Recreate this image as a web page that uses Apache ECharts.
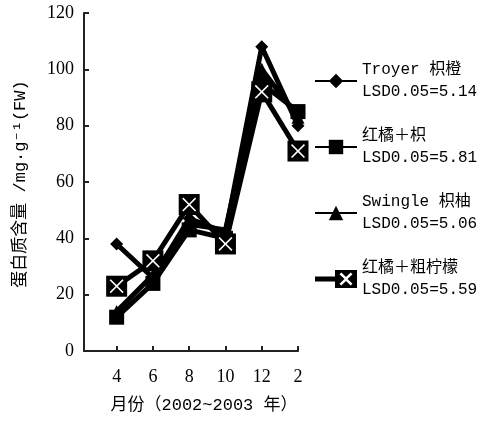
<!DOCTYPE html>
<html>
<head>
<meta charset="utf-8">
<script src="https://cdn.jsdelivr.net/npm/echarts@6/dist/echarts.min.js"></script>
<style>
  html, body { margin: 0; padding: 0; background: #fff; }
  #chart { width: 498px; height: 423px; }
</style>
</head>
<body>
<div id="chart"></div>
<script>
// Months sampled (April 2002 to February 2003)
const months = ['4', '6', '8', '10', '12', '2'];
const yTicks = [0, 20, 40, 60, 80, 100, 120];

// Protein content, mg·g-1 (FW)
const troyer    = [38, 26, 47, 42, 108, 80];
const hongjuZhi = [12, 24, 43, 40, 95, 85];
const swingle   = [14, 27, 45, 43, 100, 83];
const hongjuCu  = [23, 32, 52, 38, 92, 71];

const seriesNames = [
  'Troyer 枳橙\nLSD0.05=5.14',
  '红橘＋枳\nLSD0.05=5.81',
  'Swingle 枳柚\nLSD0.05=5.06',
  '红橘＋粗柠檬\nLSD0.05=5.59'
];

// white cross drawn on top of the black squares
const crossPath = 'path://M0,8 L8,0 L50,42 L92,0 L100,8 L58,50 L100,92 L92,100 L50,58 L8,100 L0,92 L42,50 Z';
// legend icon: short line stub + black square with a white cross cut out
const crossSquareIcon = 'path://M0,6.5 L20,6.5 L20,11.5 L0,11.5 Z M20,0 L42,0 L42,18 L20,18 Z ' +
  'M24.5,4.2 L29.5,9 L24.5,13.8 L26.3,15.6 L31,11 L35.7,15.6 L37.5,13.8 L32.5,9 L37.5,4.2 L35.7,2.4 L31,7 L26.3,2.4 Z';

const toPoints = arr => arr.map((v, i) => [i + 1, v]);
const xPositions = months.map((m, i) => i + 1);

const serif = "'Liberation Serif', 'Noto Serif CJK SC', 'Noto Sans CJK SC', serif";
const mono = "'Liberation Mono', 'Noto Sans CJK SC', monospace";

function lineSeries(name, data, symbol, size) {
  return {
    name: name,
    type: 'line',
    data: toPoints(data),
    symbol: symbol,
    symbolSize: size,
    showSymbol: true,
    lineStyle: { color: '#000', width: 5 },
    itemStyle: { color: '#000', borderWidth: 0 },
    emphasis: { disabled: true },
    animation: false
  };
}

const chart = echarts.init(document.getElementById('chart'), null, { renderer: 'canvas' });
chart.setOption({
  backgroundColor: '#fff',
  grid: { left: 84, top: 13, width: 214, height: 338, containLabel: false },
  xAxis: {
    type: 'value',
    min: 0.1, max: months.length,
    axisLine: { lineStyle: { color: '#222', width: 2 } },
    axisTick: { inside: true, length: 5, customValues: xPositions, lineStyle: { color: '#222', width: 2 } },
    axisLabel: {
      margin: 17,
      customValues: xPositions,
      fontFamily: serif, fontSize: 18, color: '#000',
      formatter: v => months[Math.round(v) - 1] || ''
    },
    splitLine: { show: false }
  },
  yAxis: {
    type: 'value',
    min: yTicks[0], max: yTicks[yTicks.length - 1], interval: 20,
    axisLine: { show: true, lineStyle: { color: '#222', width: 2 } },
    axisTick: { show: true, inside: true, length: 5, lineStyle: { color: '#222', width: 2 } },
    axisLabel: { margin: 10, fontFamily: serif, fontSize: 18, color: '#000' },
    splitLine: { show: false }
  },
  legend: {
    orient: 'vertical',
    left: 309, top: 54,
    itemWidth: 42, itemHeight: 18, itemGap: 22,
    selectedMode: false,
    textStyle: { fontFamily: mono, fontSize: 16, lineHeight: 22, color: '#000' },
    data: [
      { name: seriesNames[0] },
      { name: seriesNames[1] },
      { name: seriesNames[2] },
      {
        name: seriesNames[3], icon: crossSquareIcon,
        itemStyle: { color: '#000', borderWidth: 0, borderColor: 'transparent' }
      }
    ]
  },
  graphic: [
    {
      type: 'text',
      x: 20, y: 184, rotation: Math.PI / 2,
      style: {
        text: '蛋白质含量 /mg·g⁻¹(FW)',
        font: "17px 'Liberation Mono', 'Noto Sans CJK SC', monospace",
        fill: '#000', align: 'center', verticalAlign: 'middle'
      }
    },
    {
      type: 'text',
      x: 204, y: 405,
      style: {
        text: '月份（2002~2003 年）',
        font: "17px 'Liberation Mono', 'Noto Sans CJK SC', monospace",
        fill: '#000', align: 'center', verticalAlign: 'middle'
      }
    }
  ],
  series: [
    lineSeries(seriesNames[0], troyer, 'diamond', 13),
    lineSeries(seriesNames[1], hongjuZhi, 'rect', 15),
    lineSeries(seriesNames[2], swingle, 'triangle', 13),
    lineSeries(seriesNames[3], hongjuCu, 'rect', 21),
    {
      name: 'cross',
      type: 'line',
      data: toPoints(hongjuCu),
      symbol: crossPath,
      symbolSize: 14,
      showSymbol: true,
      lineStyle: { opacity: 0 },
      itemStyle: { color: '#fff', borderWidth: 0 },
      emphasis: { disabled: true },
      z: 5,
      animation: false
    }
  ]
});
</script>
</body>
</html>
